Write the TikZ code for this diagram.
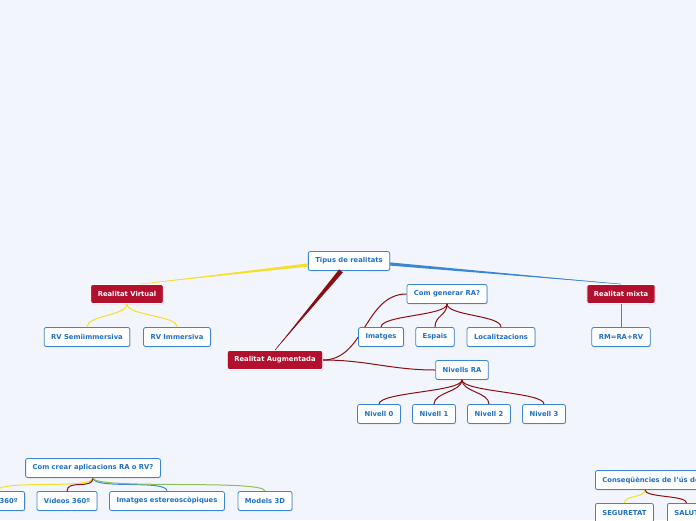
\documentclass[tikz,border=0pt]{standalone}
\usepackage{fontspec}
\setmainfont{DejaVu Sans}
\usetikzlibrary{calc,shadows}
\definecolor{paper}{HTML}{F3F5FD}
\definecolor{edgeblue}{HTML}{3A85D4}
\definecolor{inkblue}{HTML}{1F6FC8}
\definecolor{mainred}{HTML}{B3102E}
\definecolor{darkred}{HTML}{8A0F12}
\definecolor{yel}{HTML}{F5DF2A}
\definecolor{grn}{HTML}{8CBF55}
\newcommand{\taper}[4]{\fill[#3] ($(#1)!#4!90:(#2)$) -- ($(#1)!#4!-90:(#2)$) -- (#2) -- cycle;
 \draw[#3,line width=.5pt] (#1) -- (#2);}

\begin{document}
\begin{tikzpicture}[x=1pt,y=-1pt,font=\fontsize{6.8}{8}\selectfont\bfseries,
 n/.style={draw=edgeblue,line width=.8pt,rounded corners=2pt,fill=white,text=inkblue,
 minimum height=19pt,inner xsep=7pt,
 drop shadow={shadow xshift=.8pt,shadow yshift=-.8pt,opacity=.25}},
 m/.style={n,draw=white,fill=mainred,text=white},
 br/.style={to path={.. controls +(0,#1) and +(0,-#1) .. (\tikztotarget)}},
 br/.default=12]
\clip (0,0) rectangle (696,520);
\fill[paper] (0,0) rectangle (696,520);
% centre and main branches
\node[n] (tipus) at (349,261) {Tipus de realitats};
\node[m] (rv) at (127,294) {Realitat Virtual};
\node[m] (ra) at (275,360) {Realitat Augmentada};
\node[m] (rmx) at (621,294) {Realitat mixta};
\coordinate (tw) at ($(tipus.west)+(0,4)$);
\coordinate (rvtop) at ($(rv.north)+(13,0)$);
\coordinate (tb) at ($(tipus.south)+(-8,0)$);
\coordinate (te) at ($(tipus.east)+(0,3)$);
\taper{tw}{rvtop}{yel}{1.6pt}
\taper{tb}{ra.north}{darkred}{2.4pt}
\taper{te}{rmx.north}{edgeblue}{1.6pt}
% realitat virtual
\node[n] (rvsemi) at (87,337) {RV Semiimmersiva};
\node[n] (rvimm) at (177,337) {RV Immersiva};
\draw[yel,line width=1pt] (rv.south) to[br] (rvsemi.north);
\draw[yel,line width=1pt] (rv.south) to[br] (rvimm.north);
% realitat augmentada
\node[n] (cgen) at (447,294) {Com generar RA?};
\node[n] (nivells) at (462,370) {Nivells RA};
\draw[darkred,line width=1pt] (ra.east) to[out=0,in=180] (cgen.west);
\draw[darkred,line width=1pt] (ra.east) to[out=0,in=180] (nivells.west);
\node[n] (imatges) at (381,337) {Imatges};
\node[n] (espais) at (435,337) {Espais};
\node[n] (loc) at (501,337) {Localitzacions};
\foreach \c in {imatges,espais,loc}
 \draw[darkred,line width=1pt] (cgen.south) to[br] (\c.north);
\foreach \i/\x in {0/379,1/434,2/489,3/544} {
 \node[n] (niv\i) at (\x,414) {Nivell \i};
 \draw[darkred,line width=1pt] (nivells.south) to[br] (niv\i.north);
}
% realitat mixta
\node[n] (rmeq) at (621,337) {RM=RA+RV};
\draw[edgeblue,line width=1pt] (rmx.south) -- (rmeq.north);
% com crear aplicacions
\node[n] (ccrear) at (93,468) {Com crear aplicacions RA o RV?};
\node[n,anchor=east] (fotos) at (25,501) {Fotos 360º};
\node[n] (videos) at (67,501) {Vídeos 360º};
\node[n] (imest) at (167,501) {Imatges estereoscòpiques};
\node[n] (models) at (265,501) {Models 3D};
\draw[yel,line width=1pt] (ccrear.south) to[br] (fotos.north);
\draw[darkred,line width=1pt] (ccrear.south) to[br] (videos.north);
\draw[edgeblue,line width=1pt] (ccrear.south) to[br] (imest.north);
\draw[grn,line width=1pt] (ccrear.south) to[br] (models.north);
% consequencies
\node[n,anchor=west] (conseq) at (595,480) {Conseqüències de l'ús de la RV};
\node[n,anchor=north west] (seg) at (595,503) {SEGURETAT};
\node[n,anchor=north west] (salut) at (667,503) {SALUT};
\coordinate (cq) at ($(conseq.south west)+(50,0)$);
\draw[yel,line width=1pt] (cq) to[br=8] (seg.north);
\draw[darkred,line width=1pt] (cq) to[br=8] (salut.north);
\end{tikzpicture}
\end{document}
